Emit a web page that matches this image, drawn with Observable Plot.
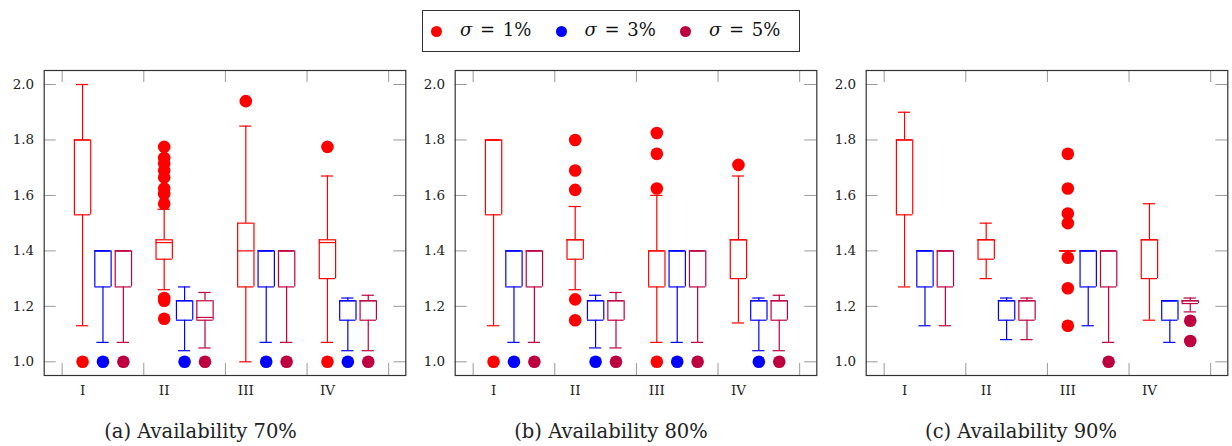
<!DOCTYPE html>
<html>
<head>
<meta charset="utf-8">
<script src="https://cdn.jsdelivr.net/npm/d3@7"></script>
<script src="https://cdn.jsdelivr.net/npm/@observablehq/plot@0.6"></script>
<style>
  html, body { margin: 0; padding: 0; background: #fff; }
  #root { position: relative; width: 1232px; height: 446px; overflow: hidden; font-family: "DejaVu Serif", serif; }
  .panel { position: absolute; top: 60px; }
  .caption { position: absolute; top: 422px; font-size: 19.5px; line-height: 19.5px; color: #222; white-space: nowrap; transform: translateX(-50%); }
  #legend { position: absolute; left: 421.5px; top: 10px; width: 376px; height: 40px; border: 1.3px solid #333; }
  .sw { position: absolute; top: 15px; width: 11px; height: 11px; border-radius: 50%; }
  .lt { position: absolute; top: 8px; font-size: 18px; word-spacing: 2px; white-space: nowrap; color: #111; }
  .lt i { font-style: italic; }
</style>
</head>
<body>
<div id="root"></div>
<script>
// ---------- data ----------
const groups = ["I", "II", "III", "IV"];
const series = ["σ = 1%", "σ = 3%", "σ = 5%"];
const colors = ["#ff0000", "#0000ff", "#bf0040"];
const captions = ["(a) Availability 70%", "(b) Availability 80%", "(c) Availability 90%"];
const yTicks = [1.0, 1.2, 1.4, 1.6, 1.8, 2.0];

// box rows: [group, seriesIndex, lowWhisker, q1, median, q3, highWhisker]
const boxes70 = [
  ["I", 0, 1.13, 1.53, 1.80, 1.80, 2.00],
  ["I", 1, 1.07, 1.27, 1.40, 1.40, 1.40],
  ["I", 2, 1.07, 1.27, 1.40, 1.40, 1.40],
  ["II", 0, 1.26, 1.37, 1.43, 1.44, 1.55],
  ["II", 1, 1.04, 1.15, 1.22, 1.22, 1.27],
  ["II", 2, 1.05, 1.15, 1.16, 1.22, 1.25],
  ["III", 0, 1.00, 1.27, 1.40, 1.50, 1.85],
  ["III", 1, 1.07, 1.27, 1.40, 1.40, 1.40],
  ["III", 2, 1.07, 1.27, 1.40, 1.40, 1.40],
  ["IV", 0, 1.07, 1.30, 1.43, 1.44, 1.67],
  ["IV", 1, 1.04, 1.15, 1.22, 1.22, 1.23],
  ["IV", 2, 1.04, 1.15, 1.22, 1.22, 1.24]
];
const boxes80 = [
  ["I", 0, 1.13, 1.53, 1.80, 1.80, 1.80],
  ["I", 1, 1.07, 1.27, 1.40, 1.40, 1.40],
  ["I", 2, 1.07, 1.27, 1.40, 1.40, 1.40],
  ["II", 0, 1.26, 1.37, 1.44, 1.44, 1.56],
  ["II", 1, 1.05, 1.15, 1.22, 1.22, 1.24],
  ["II", 2, 1.05, 1.15, 1.22, 1.22, 1.25],
  ["III", 0, 1.07, 1.27, 1.40, 1.40, 1.60],
  ["III", 1, 1.07, 1.27, 1.40, 1.40, 1.40],
  ["III", 2, 1.07, 1.27, 1.40, 1.40, 1.40],
  ["IV", 0, 1.14, 1.30, 1.44, 1.44, 1.67],
  ["IV", 1, 1.04, 1.15, 1.22, 1.22, 1.23],
  ["IV", 2, 1.04, 1.15, 1.22, 1.22, 1.24]
];
const boxes90 = [
  ["I", 0, 1.27, 1.53, 1.80, 1.80, 1.90],
  ["I", 1, 1.13, 1.27, 1.40, 1.40, 1.40],
  ["I", 2, 1.13, 1.27, 1.40, 1.40, 1.40],
  ["II", 0, 1.30, 1.37, 1.44, 1.44, 1.50],
  ["II", 1, 1.08, 1.15, 1.22, 1.22, 1.23],
  ["II", 2, 1.08, 1.15, 1.22, 1.22, 1.23],
  ["III", 0, 1.40, 1.40, 1.40, 1.40, 1.40],
  ["III", 1, 1.13, 1.27, 1.40, 1.40, 1.40],
  ["III", 2, 1.07, 1.27, 1.40, 1.40, 1.40],
  ["IV", 0, 1.15, 1.30, 1.44, 1.44, 1.57],
  ["IV", 1, 1.07, 1.15, 1.22, 1.22, 1.22],
  ["IV", 2, 1.18, 1.21, 1.22, 1.22, 1.23]
];

// outliers: [group, seriesIndex, value]
const outliers70 = [
  ["I", 0, 1.00], ["I", 1, 1.00], ["I", 2, 1.00],
  ["II", 0, 1.775], ["II", 0, 1.735], ["II", 0, 1.715], ["II", 0, 1.69], ["II", 0, 1.665],
  ["II", 0, 1.625], ["II", 0, 1.605], ["II", 0, 1.57], ["II", 0, 1.23], ["II", 0, 1.22], ["II", 0, 1.155],
  ["II", 1, 1.00], ["II", 2, 1.00],
  ["III", 0, 1.94], ["III", 1, 1.00], ["III", 2, 1.00],
  ["IV", 0, 1.775], ["IV", 0, 1.00], ["IV", 1, 1.00], ["IV", 2, 1.00]
];
const outliers80 = [
  ["I", 0, 1.00], ["I", 1, 1.00], ["I", 2, 1.00],
  ["II", 0, 1.80], ["II", 0, 1.69], ["II", 0, 1.62], ["II", 0, 1.225], ["II", 0, 1.15],
  ["II", 1, 1.00], ["II", 2, 1.00],
  ["III", 0, 1.825], ["III", 0, 1.75], ["III", 0, 1.625], ["III", 0, 1.00],
  ["III", 1, 1.00], ["III", 2, 1.00],
  ["IV", 0, 1.71], ["IV", 1, 1.00], ["IV", 2, 1.00]
];
const outliers90 = [
  ["III", 0, 1.75], ["III", 0, 1.625], ["III", 0, 1.535], ["III", 0, 1.50],
  ["III", 0, 1.375], ["III", 0, 1.265], ["III", 0, 1.13],
  ["III", 2, 1.00],
  ["IV", 2, 1.148], ["IV", 2, 1.075]
];

const panelBoxes = [boxes70, boxes80, boxes90];
const panelOutliers = [outliers70, outliers80, outliers90];

// ---------- layout ----------
const root = document.getElementById("root");
const W = 410, H = 340, mL = 43.7, mR = 4.7, mT = 10, mB = 25;
const frameW = W - mL - mR, frameH = H - mT - mB;
const panelLeft = [0, 410.6, 821.6];
const captionCenter = [200.5, 611, 1021];
const BW = 0.4, CW = 0.3; // half widths in x units
const pos = (g, s) => 1 + 4 * groups.indexOf(g) + s;
const sepTicks = [0, 4, 8, 12, 16];
const labelTicks = groups.map((g) => pos(g, 0));

panelBoxes.forEach((bx, p) => {
  const B = bx.map(([g, s, lo, q1, med, q3, hi]) => ({x: pos(g, s), series: series[s], lo, q1, med, q3, hi}));
  const O = panelOutliers[p].map(([g, s, v]) => ({x: pos(g, s), series: series[s], v}));
  const sw = 1.2;
  const chart = Plot.plot({
    width: W, height: H,
    marginLeft: mL, marginRight: mR, marginTop: mT, marginBottom: mB,
    x: {domain: [-0.88, 16.84], ticks: labelTicks, tickFormat: (d) => groups[(d - 1) / 4], tickSize: 0, tickPadding: 10, label: null},
    y: {domain: [0.9506, 2.0505], ticks: yTicks, tickFormat: (d) => d.toFixed(1), tickSize: 0, tickPadding: 10, label: null},
    color: {domain: series, range: colors},
    style: {fontFamily: "DejaVu Serif", fontSize: "13.5px", color: "#222", background: "transparent", overflow: "visible"},
    marks: [
      // inward ticks
      Plot.tickX(sepTicks, {x: (d) => d, insetBottom: frameH - 12, stroke: "#9a9a9a"}),
      Plot.tickX(sepTicks, {x: (d) => d, insetTop: frameH - 12, stroke: "#9a9a9a"}),
      Plot.tickY(yTicks, {y: (d) => d, insetRight: frameW - 12, stroke: "#9a9a9a"}),
      Plot.tickY(yTicks, {y: (d) => d, insetLeft: frameW - 12, stroke: "#9a9a9a"}),
      // whiskers
      Plot.ruleX(B, {x: "x", y1: "q3", y2: "hi", stroke: "series", strokeWidth: sw}),
      Plot.ruleX(B, {x: "x", y1: "lo", y2: "q1", stroke: "series", strokeWidth: sw}),
      Plot.ruleY(B, {y: "hi", x1: (d) => d.x - CW, x2: (d) => d.x + CW, stroke: "series", strokeWidth: sw}),
      Plot.ruleY(B, {y: "lo", x1: (d) => d.x - CW, x2: (d) => d.x + CW, stroke: "series", strokeWidth: sw}),
      // boxes
      Plot.ruleX(B, {x: (d) => d.x - BW, y1: "q1", y2: "q3", stroke: "series", strokeWidth: sw}),
      Plot.ruleX(B, {x: (d) => d.x + BW, y1: "q1", y2: "q3", stroke: "series", strokeWidth: sw}),
      Plot.ruleY(B, {y: "q1", x1: (d) => d.x - BW, x2: (d) => d.x + BW, stroke: "series", strokeWidth: sw}),
      Plot.ruleY(B, {y: "q3", x1: (d) => d.x - BW, x2: (d) => d.x + BW, stroke: "series", strokeWidth: sw}),
      Plot.ruleY(B, {y: "med", x1: (d) => d.x - BW, x2: (d) => d.x + BW, stroke: "series", strokeWidth: sw}),
      // outliers
      Plot.dot(O, {x: "x", y: "v", r: 6.3, fill: "series", stroke: null}),
      Plot.frame({stroke: "#333", strokeWidth: 1.2})
    ]
  });
  chart.classList.add("panel");
  chart.style.left = panelLeft[p] + "px";
  root.appendChild(chart);

  const cap = document.createElement("div");
  cap.className = "caption";
  cap.style.left = captionCenter[p] + "px";
  cap.textContent = captions[p];
  root.appendChild(cap);
});

// legend
const legend = document.createElement("div");
legend.id = "legend";
series.forEach((s, i) => {
  const dot = document.createElement("span");
  dot.className = "sw";
  dot.style.left = (8.5 + 124.5 * i) + "px";
  dot.style.background = colors[i];
  legend.appendChild(dot);
  const t = document.createElement("span");
  t.className = "lt";
  t.style.left = (37.5 + 124.5 * i) + "px";
  const parts = s.split(" ");
  t.innerHTML = "<i>" + parts[0] + "</i> " + parts.slice(1).join(" ");
  legend.appendChild(t);
});
root.appendChild(legend);
</script>
</body>
</html>
